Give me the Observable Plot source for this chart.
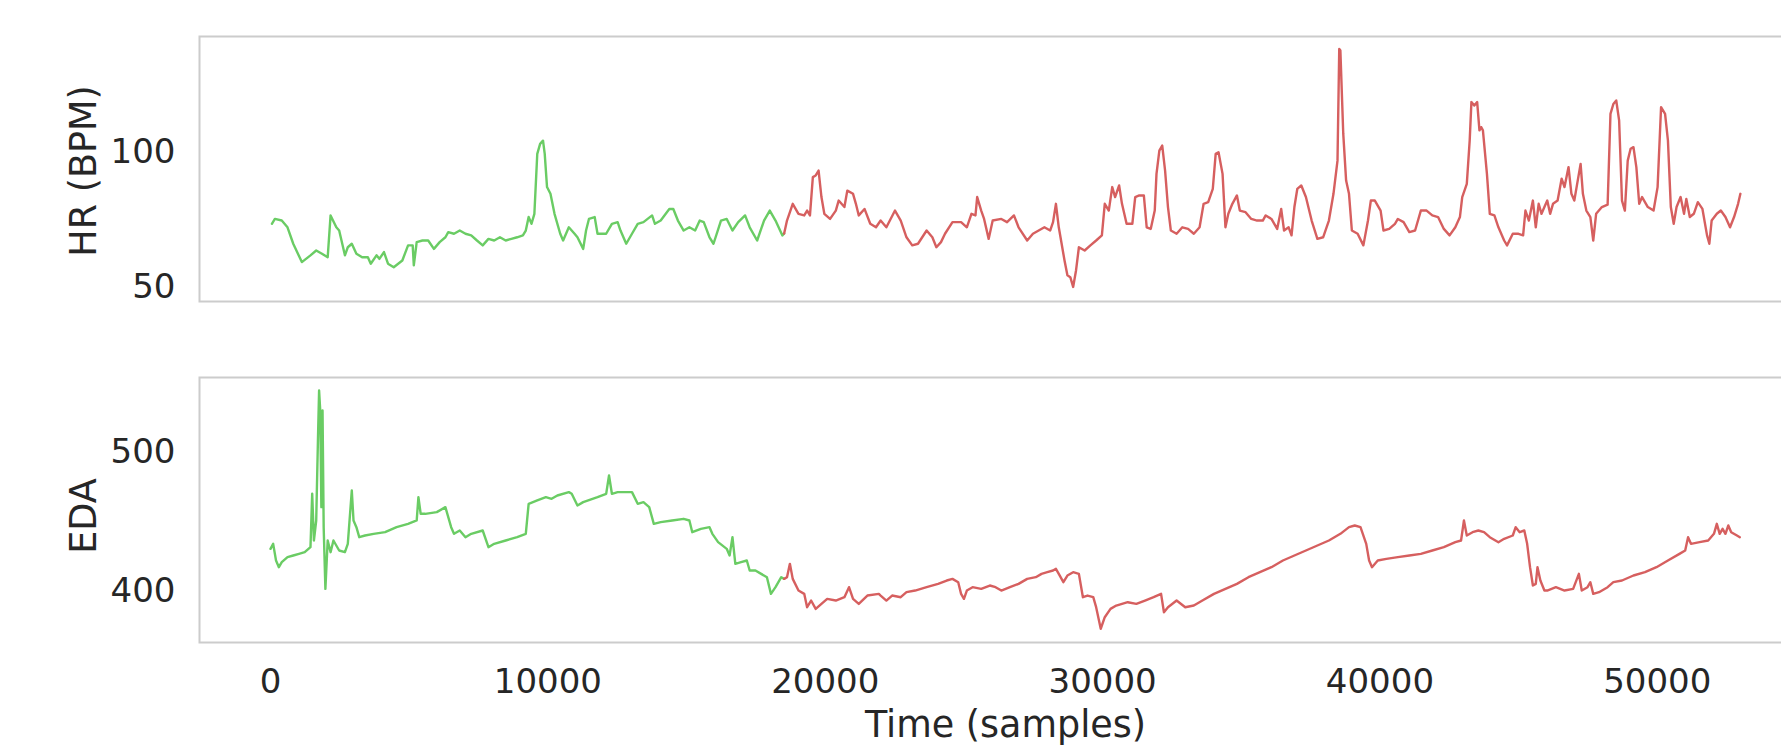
<!DOCTYPE html>
<html><head><meta charset="utf-8">
<script src="https://cdn.jsdelivr.net/npm/d3@7"></script>
<script src="https://cdn.jsdelivr.net/npm/@observablehq/plot@0.6"></script>
<style>
html,body{margin:0;padding:0;background:#fff;overflow:hidden;}
#chart{width:1781px;height:754px;overflow:hidden;position:relative;background:#fff;}
#chart svg{display:block;max-width:none !important;}
</style></head><body><div id="chart"></div>
<script>
// ---- data ----
const phaseSplit = 18519; // sample where baseline (green) ends and stress (red) begins
const xTicks = [0, 10000, 20000, 30000, 40000, 50000];
const hrTicks = [50, 100];
const edaTicks = [400, 500];
const xLabel = "Time (samples)";
const hrLabel = "HR (BPM)";
const edaLabel = "EDA";

const hrTime = [
50,158,406,613,820,1130,1441,1648,1855,2062,2166,2373,2476,2683,2787,2931,3097,3304,3511,3615,
3822,3925,4091,4236,4443,4753,4960,5126,5167,5271,5478,5685,5892,6099,6306,6409,6616,6823,7030,7237,
7444,7651,7858,8065,8272,8479,8686,8893,9100,9204,9307,9411,9514,9618,9721,9825,9887,9970,10094,10240,
10446,10550,10756,10963,11067,11274,11377,11481,11688,11791,12102,12309,12516,12619,12826,13033,13240,13447,13758,13861,
14068,14379,14523,14689,14896,15103,15310,15476,15621,15828,15972,16242,16449,16656,16863,17111,17277,17546,17794,18001,
18208,18456,18519,
18622,18829,19036,19243,19347,19450,19554,19657,19761,19864,19968,20175,20382,20485,20692,20796,21003,21106,21210,21417,
21624,21831,
21998,22205,22516,22723,22930,23138,23345,23656,23863,24008,24174,24319,24588,24899,25106,25272,25417,25479,25624,25728,
25893,26038,26349,26556,26805,26971,27282,27489,27696,27903,28110,28214,28318,28421,28628,28732,28836,28939,29043,29146,
29354,29561,29768,29975,30079,30224,30348,30452,30597,30700,30866,31073,31177,31322,31488,31591,31736,31881,31944,32047,
32151,32254,32358,32462,32669,32876,33083,33290,33498,33643,33808,33974,34078,34181,34326,34430,34534,34679,34844,34948,
35155,35362,35570,35777,35880,36088,36295,36440,36543,36709,36813,36916,37020,37165,37331,37538,37745,37952,38160,38325,
38470,38533,38574,38678,38781,38885,38988,39196,39403,39569,39672,39817,40024,40128,40335,40542,40646,40853,41060,41268,
41475,41682,41889,42096,42304,42511,42718,42884,42967,43132,43236,43298,43402,43506,43588,43650,43713,43858,43961,44127,
44272,44479,44583,44790,44997,45163,45246,45370,45515,45619,45723,45826,45930,46033,46137,46240,46406,46551,46655,46800,
46904,47008,47111,47235,47318,47442,47587,47691,47795,48002,48209,48312,48416,48520,48624,48727,48831,48934,49038,49141,
49245,49349,49452,49659,49866,50011,50136,50281,50384,50488,50592,50695,50840,50964,51047,51172,51317,51462,51628,51794,
51877,51960,52146,52291,52457,52623,52768,52913,52996
];
const hrValue = [
73.6,75.4,74.8,72.3,66.2,59.4,61.9,63.7,62.5,61.2,76.7,72.3,71.1,61.9,64.9,66.2,62.5,61.2,61.2,58.8,
61.9,60.6,63.1,58.8,57.5,60.0,65.6,65.6,58.2,66.8,67.4,67.4,64.3,66.8,68.6,70.5,69.9,71.1,69.9,69.3,
67.4,65.6,68.0,67.4,68.6,67.4,68.0,68.6,69.3,71.1,76.1,73.6,77.3,99.5,103.2,104.4,99.5,87.2,84.7,77.3,
69.9,67.4,72.3,69.9,68.6,64.3,71.1,75.4,76.1,69.9,69.9,73.6,74.2,71.1,66.2,69.9,73.6,74.2,76.7,73.6,
74.8,79.1,79.1,74.8,71.1,72.3,71.1,74.8,74.2,68.6,66.2,74.8,75.4,71.1,74.2,76.7,72.3,67.4,74.8,78.5,
74.8,69.3,70.0,
74.8,81.0,77.3,76.7,78.5,76.7,90.9,91.5,93.3,83.5,77.3,75.4,78.5,82.2,79.8,85.9,84.7,81.0,76.7,79.1,
73.6,72.3,
74.8,72.3,78.5,74.8,68.6,65.6,66.2,71.1,68.6,64.9,66.8,69.9,74.2,74.2,72.3,77.3,76.7,83.5,78.5,75.4,
68.0,74.8,75.4,74.2,76.7,72.3,67.4,69.9,71.1,72.3,71.1,74.2,81.0,72.3,60.0,54.5,53.8,50.2,56.3,64.9,
63.7,65.6,67.4,69.3,81.0,78.5,87.2,83.5,87.8,81.0,73.6,73.6,83.5,84.1,84.1,72.3,71.7,78.5,92.1,100.7,
102.6,93.3,79.8,71.1,69.9,72.3,71.7,69.9,72.3,81.0,81.6,86.5,99.5,100.1,92.1,72.3,77.3,81.0,84.1,78.5,
77.9,75.4,74.8,74.8,76.7,75.4,71.7,79.1,71.1,72.3,69.3,79.8,86.5,87.8,83.5,74.8,68.0,68.6,74.8,84.7,
97.0,138.4,137.8,106.9,89.6,84.7,71.1,69.9,65.6,74.8,82.2,82.2,78.5,71.1,71.7,73.6,75.4,74.2,70.5,71.1,
78.5,78.5,76.7,76.1,71.7,69.3,72.3,76.1,83.5,88.4,104.4,118.7,117.4,118.7,108.2,109.4,108.2,92.1,77.3,76.7,
72.3,67.4,65.6,69.9,69.9,69.3,78.5,74.8,82.2,72.3,81.0,77.3,79.8,82.2,77.3,81.0,82.2,90.3,87.2,94.6,
84.7,82.2,88.4,95.8,84.7,78.5,76.1,67.4,77.3,79.8,80.7,114.3,118.0,119.3,111.9,82.2,78.5,97.0,101.4,102.0,
94.6,81.0,83.5,79.8,78.5,87.2,116.8,114.3,104.4,79.8,73.6,79.8,83.5,77.3,82.8,76.1,77.3,81.6,79.1,69.3,
66.2,74.8,77.3,78.5,76.1,72.3,76.1,81.0,84.7
];

const edaTime = [
0,96,199,302,406,613,820,1027,1234,1441,1503,1565,1648,1710,1752,1793,1834,1876,1917,1979,
2062,2166,2269,2476,2683,2787,2931,2993,3097,3200,3408,3718,4132,4546,4960,5271,5333,5415,5581,5995,
6306,6513,6616,6823,7030,7237,7651,7858,8065,8479,8893,9204,9307,9618,9928,10135,10342,10756,10860,11067,
11274,11791,12102,12205,12309,12516,12826,13033,13240,13447,13654,13820,14068,14482,14896,15103,15207,15517,15828,15931,
16138,16449,16552,16656,16759,16966,17173,17277,17484,17691,17898,18043,18208,18415,18519,
18622,18726,18829,19036,19243,19347,19491,19657,19864,20071,20382,20692,20858,21003,21210,21520,21934,
21998,22205,22412,22723,22930,23241,23656,24070,24381,24588,24795,24899,25002,25106,25313,25624,25935,26142,26349,26660,
26971,27282,27592,27799,28006,28214,28318,28421,28587,28732,28939,29146,29291,29457,29664,29768,29934,30079,30286,30493,
30908,31218,31529,31840,32109,32213,32358,32669,32980,33290,33600,34016,34430,34844,35259,35673,36088,36502,36916,37331,
37745,38160,38574,38885,39092,39299,39506,39610,39714,39921,40232,40646,41060,41475,41889,42304,42718,42925,43029,43132,
43340,43548,43754,43961,44272,44479,44790,44894,45039,45205,45308,45412,45515,45619,45681,45785,45930,46033,46344,46655,
46966,47173,47277,47484,47587,47691,47899,48209,48416,48727,49141,49556,49970,50384,50799,51006,51110,51214,51525,51836,
52043,52146,52250,52354,52457,52561,52665,52872,52976
];
const edaValue = [
430.7,434.3,422.3,417.5,421.1,424.7,425.9,427.1,428.3,431.9,470.3,436.7,451.1,508.6,544.6,530.2,460.7,530.2,446.3,401.9,
436.7,428.3,436.7,429.5,428.3,434.3,472.7,451.1,446.3,439.1,440.3,441.5,442.7,446.3,448.7,451.1,467.9,455.9,455.9,457.1,
460.7,446.3,441.5,443.9,439.1,441.5,443.9,431.9,434.3,436.7,439.1,441.5,463.1,465.5,467.9,466.7,469.1,471.5,470.3,461.9,
464.3,467.9,470.3,483.5,470.3,471.5,471.5,471.5,463.1,464.3,460.7,448.7,449.9,451.1,452.3,451.1,442.7,445.1,446.3,441.5,
435.5,430.7,425.9,439.1,419.9,421.1,422.3,415.1,415.1,412.7,410.3,398.3,403.1,410.3,409.1,
410.3,419.9,409.1,400.7,398.3,388.7,393.5,387.5,391.1,394.7,393.5,395.9,403.1,394.7,391.1,397.1,398.3,
397.1,393.5,397.1,395.9,399.5,400.7,403.1,405.5,407.9,409.1,406.7,398.3,394.7,400.7,403.1,401.9,404.3,403.1,400.7,403.1,
405.5,409.1,410.3,412.7,413.9,415.1,416.3,412.7,406.7,411.5,413.9,412.7,395.9,397.1,395.9,388.7,373.2,381.5,387.5,389.9,
392.3,391.1,393.5,395.9,398.3,385.1,388.7,393.5,388.7,389.9,393.5,398.3,401.9,405.5,410.3,413.9,417.5,422.3,425.9,429.5,
433.1,436.7,441.5,446.3,447.5,446.3,434.3,422.3,417.5,422.3,423.5,424.7,425.9,427.1,429.5,431.9,435.5,436.7,451.1,440.3,
442.7,443.9,442.7,439.1,435.5,437.9,440.3,446.3,442.7,443.9,434.3,417.5,404.3,405.5,417.5,407.9,400.7,400.7,403.1,400.7,
401.9,412.7,400.7,403.1,406.7,398.3,399.5,403.1,406.7,407.9,411.5,413.9,417.5,422.3,427.1,429.5,439.1,434.3,435.5,436.7,
441.5,448.7,441.5,445.1,441.5,447.5,442.7,440.3,439.1
];

const baselineColor = "#6acc64";
const stressColor = "#d65f5f";

// ---- chart ----
const xDomain = [-2560, 55560];
function rows(times, values) { return times.map((t, i) => ({t, v: values[i]})); }

function panel({data, yDomain, yTicks, yLabel, labelDy, height, marginTop, marginBottom, showX}) {
  const base = data.filter(d => d.t <= phaseSplit);
  const stress = data.filter(d => d.t >= phaseSplit);
  const marks = [
    Plot.frame({stroke: "#cccccc", strokeWidth: 2}),
    Plot.line(base, {x: "t", y: "v", stroke: baselineColor, strokeWidth: 2.4}),
    Plot.line(stress, {x: "t", y: "v", stroke: stressColor, strokeWidth: 2.4}),
    Plot.axisY(yTicks, {tickSize: 0, tickPadding: 24, label: null, fontSize: 34, tickFormat: d => `${d}`}),
    Plot.text([yLabel], {frameAnchor: "left", textAnchor: "middle", lineAnchor: "middle", text: d => d, rotate: -90,
      dx: -115, dy: labelDy, fontSize: 36.5, fill: "#262626"})
  ];
  if (showX) {
    marks.push(Plot.axisX(xTicks, {tickSize: 0, tickPadding: 26, label: null, fontSize: 34, tickFormat: d => `${d}`}));
    marks.push(Plot.text([xLabel], {frameAnchor: "bottom", textAnchor: "middle", lineAnchor: "middle", text: d => d,
      dy: 83, fontSize: 36.5, fill: "#262626"}));
  }
  return Plot.plot({
    width: 1811, height, marginLeft: 199, marginRight: 0, marginTop, marginBottom,
    style: {fontFamily: "'DejaVu Sans', sans-serif", fontSize: "34px", color: "#262626", background: "#fff", maxWidth: "none"},
    x: showX ? {domain: xDomain} : {domain: xDomain, axis: null},
    y: {domain: yDomain},
    marks
  });
}

const root = document.getElementById("chart");
root.appendChild(panel({data: rows(hrTime, hrValue), yDomain: [44.8, 143], yTicks: hrTicks, yLabel: hrLabel, labelDy: 2,
  height: 338, marginTop: 36, marginBottom: 37, showX: false}));
root.appendChild(panel({data: rows(edaTime, edaValue), yDomain: [363.3, 554], yTicks: edaTicks, yLabel: edaLabel, labelDy: 6,
  height: 416, marginTop: 39, marginBottom: 112, showX: true}));
</script></body></html>
